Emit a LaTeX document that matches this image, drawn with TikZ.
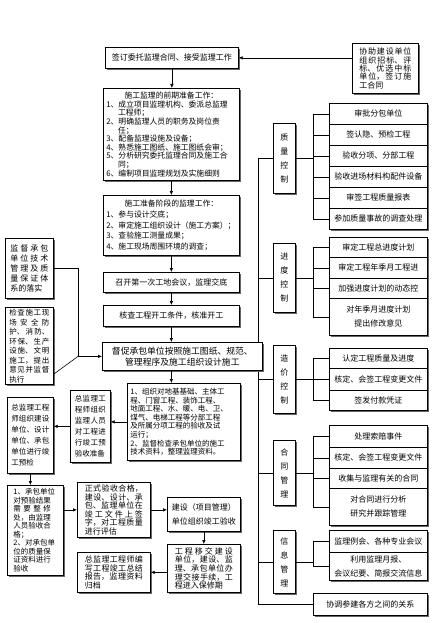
\documentclass[tikz,border=0pt]{standalone}
\usepackage{fontspec}
\setmainfont{Noto Sans CJK SC}
\usetikzlibrary{arrows.meta,shadows,calc,backgrounds}
\XeTeXlinebreaklocale "zh"
\XeTeXlinebreakskip=0pt plus 2pt
\begin{document}
\tikzset{
 box/.style={draw, line width=0.7pt, fill=white, inner sep=2pt, anchor=north west,
   drop shadow={shadow xshift=1.2pt,shadow yshift=-1.2pt,fill=black!60,opacity=1},
   font=\fontsize{8}{9.5}\selectfont},
 jbox/.style={box, align=justify},
 vbox/.style={box, minimum width=22pt, text width=9pt, align=center, inner sep=0pt, font=\fontsize{8}{14}\selectfont},
 item/.style={box, minimum width=98pt, align=center, font=\fontsize{8}{14}\selectfont},
 arr/.style={-{Latex[length=4pt,width=3.5pt]}, line width=0.6pt},
 ln/.style={line width=0.6pt},
}
\begin{tikzpicture}[x=1pt,y=-1pt]
\useasboundingbox (0,0) rectangle (437,623);
% main column
\node[box, minimum width=133pt, minimum height=21pt] (top) at (105,47) {签订委托监理合同、接受监理工作};
\node[jbox, minimum width=66pt, minimum height=50pt, text width=52pt, font=\fontsize{8}{8.4}\selectfont] (help) at (352,43) {协助建设单位组织招标、评标、优选中标单位，签订施工合同};
\node[box, minimum width=136pt, minimum height=92pt, text width=130pt, align=left, font=\fontsize{7.8}{8.6}\selectfont] (prep) at (103,88) {{\centering 施工监理的前期准备工作：\par}1、成立项目监理机构、委派总监理\\\hspace*{1.5em}工程师；\\2、明确监理人员的职务及岗位责\\\hspace*{1.5em}任；\\3、配备监理设施及设备；\\4、熟悉施工图纸、施工图纸会审；\\5、分析研究委托监理合同及施工合\\\hspace*{1.5em}同；\\6、编制项目监理规划及实施细则};
\node[box, minimum width=136pt, minimum height=60pt, text width=130pt, align=left, font=\fontsize{7.8}{10.8}\selectfont] (stage) at (103,195) {{\centering 施工准备阶段的监理工作：\par}1、参与设计交底；\\2、审定施工组织设计（施工方案）；\\3、查验施工测量成果；\\4、施工现场周围环境的调查；};
\node[box, minimum width=136pt, minimum height=20pt] (meet) at (103,272) {召开第一次工地会议，监理交底};
\node[box, minimum width=136pt, minimum height=21pt] (check) at (103,305) {核查工程开工条件，核准开工};
% spine behind urge box
\coordinate (spx) at (258,0);
\coordinate (lj) at (78,0);
\node[box, minimum width=160pt, minimum height=28pt, align=center, font=\fontsize{8.8}{11}\selectfont] (urge) at (102,342) {督促承包单位按照施工图纸、规范、\\管理程序及施工组织设计施工};
\node[box, minimum width=113pt, minimum height=77pt, text width=107pt, align=left, font=\fontsize{7.5}{8.6}\selectfont] (accept) at (127,383) {1、组织对地基基础、主体工\\程、门窗工程、装饰工程、\\地面工程、水、暖、电、卫、\\煤气、电梯工程等分部工程\\及所属分项工程的验收及试\\运行；\\2、监督检查承包单位的施工\\技术资料，整理监理资料。};
% left side
\node[jbox, minimum width=48pt, minimum height=60pt, text width=38pt, font=\fontsize{8}{9.8}\selectfont] (b1) at (5,238) {监督承包单位技术管理及质量保证体系的落实};
\node[jbox, minimum width=48pt, minimum height=76pt, text width=40pt, font=\fontsize{7.5}{9.5}\selectfont] (b2) at (5,307) {检查施工现场安全防护、消防、环保、生产设施、文明施工，提出意见并监督执行};
\node[jbox, minimum width=40pt, minimum height=72pt, text width=31pt, font=\fontsize{7.5}{11}\selectfont] (pre) at (70,390) {总监理工程师组织监理人员对工程进行竣工预验收准备};
\node[jbox, minimum width=46pt, minimum height=76pt, text width=38pt, font=\fontsize{7.5}{11}\selectfont] (prechk) at (7,397) {总监理工程师组织建设单位、设计单位、承包单位进行竣工预检};
\node[box, minimum width=56pt, minimum height=90pt, text width=44pt, align=left, font=\fontsize{7.5}{8.5}\selectfont] (fix) at (7,485) {1、承包单位\\对预验结果\\\makebox[5em][s]{需\hfill 要\hfill 整\hfill 修}\\处，由监理\\人员验收合\\格；\\2、对承包单\\位的质量保\\证资料进行\\验收};
\node[jbox, minimum width=73pt, minimum height=55pt, text width=58pt, font=\fontsize{8}{8.6}\selectfont] (formal) at (77,482) {正式验收合格，建设、设计、承包、监理单位在竣工文件上签字，对工程质量进行评估};
\node[box, minimum width=73pt, minimum height=34pt, align=center, font=\fontsize{8}{14.5}\selectfont] (build) at (167,497) {建设（项目管理）\\单位组织竣工验收};
\node[jbox, minimum width=73pt, minimum height=48pt, text width=58pt, font=\fontsize{8}{8.7}\selectfont] (hand) at (167,544) {工程移交建设单位，建设、监理、承包单位办理交接手续，工程进入保修期};
\node[jbox, minimum width=73pt, minimum height=40pt, text width=58pt, font=\fontsize{8}{8.7}\selectfont] (sum) at (77,552) {总监理工程师编写工程竣工总结报告，监理资料归档};
% right side: control boxes
\node[vbox, minimum height=70pt] (qc) at (273,123) {质\\量\\控\\制};
\node[vbox, minimum height=69pt] (sc) at (273,243) {进\\度\\控\\制};
\node[vbox, minimum height=68pt] (cc) at (273,345) {造\\价\\控\\制};
\node[vbox, minimum height=65pt] (ct) at (273,440) {合\\同\\管\\理};
\node[vbox, minimum height=63pt] (im) at (273,530) {信\\息\\管\\理};
% items
\node[item, minimum height=21pt] (q1) at (329,103) {审批分包单位};
\node[item, minimum height=21pt] (q2) at (329,124) {签认隐、预检工程};
\node[item, minimum height=21pt] (q3) at (329,145) {验收分项、分部工程};
\node[item, minimum height=21pt] (q4) at (329,166) {验收进场材料构配件设备};
\node[item, minimum height=21pt] (q5) at (329,187) {审签工程质量报表};
\node[item, minimum height=21pt] (q6) at (329,208) {参加质量事故的调查处理};
\node[item, minimum height=20pt] (s1) at (329,237) {审定工程总进度计划};
\node[item, minimum height=21pt] (s2) at (329,257) {审定工程年季月工程进};
\node[item, minimum height=20pt] (s3) at (329,278) {加强进度计划的动态控};
\node[item, minimum height=37pt] (s4) at (329,298) {对年季月进度计划\\提出修改意见};
\node[item, minimum height=20pt] (c1) at (329,348) {认定工程质量及进度};
\node[item, minimum height=22pt] (c2) at (329,368) {核定、会签工程变更文件};
\node[item, minimum height=20pt] (c3) at (329,390) {签发付款凭证};
\node[item, minimum height=22pt] (t1) at (329,425) {处理索赔事件};
\node[item, minimum height=21pt] (t2) at (329,447) {核定、会签工程变更文件};
\node[item, minimum height=20pt] (t3) at (329,468) {收集与监理有关的合同};
\node[item, minimum height=37pt] (t4) at (329,488) {对合同进行分析\\研究并跟踪管理};
\node[item, minimum height=22pt] (i1) at (329,530) {监理例会、各种专业会议};
\node[item, minimum height=28pt] (i2) at (329,552) {利用监理月报、\\会议纪要、简报交流信息};
\node[box, minimum width=114pt, minimum height=22pt] (coord) at (313,593) {协调参建各方之间的关系};
% spine (behind)
\begin{pgfonlayer}{background}
\draw[ln] (spx |- qc.west) -- (spx |- coord.west);
\end{pgfonlayer}
\foreach \n in {qc,sc,cc,ct,im,coord} \draw[ln] (spx |- \n.west) -- (\n.west);
% brackets
\coordinate (bx) at (313,0);
\draw[ln] (qc.east) -- (qc.east -| bx);
\draw[ln] (bx |- q1.west) -- (bx |- q6.west);
\foreach \n in {q1,q2,q3,q4,q5,q6} \draw[ln] (bx |- \n.west) -- (\n.west);
\draw[ln] (sc.east) -- (sc.east -| bx);
\draw[ln] (bx |- s1.west) -- (bx |- s4.west);
\foreach \n in {s1,s2,s3,s4} \draw[ln] (bx |- \n.west) -- (\n.west);
\draw[ln] (cc.east) -- (cc.east -| bx);
\draw[ln] (bx |- c1.west) -- (bx |- c3.west);
\foreach \n in {c1,c2,c3} \draw[ln] (bx |- \n.west) -- (\n.west);
\draw[ln] (ct.east) -- (ct.east -| bx);
\draw[ln] (bx |- t1.west) -- (bx |- t4.west);
\foreach \n in {t1,t2,t3,t4} \draw[ln] (bx |- \n.west) -- (\n.west);
\draw[ln] (im.east) -- (im.east -| bx);
\draw[ln] (bx |- i1.west) -- (bx |- i2.west);
\foreach \n in {i1,i2} \draw[ln] (bx |- \n.west) -- (\n.west);
% main arrows
\draw[arr] (top.east -| help.west) -- (top.east);
\draw[arr] (top.south) -- (top.south |- prep.north);
\draw[arr] (prep.south) -- (prep.south |- stage.north);
\draw[arr] (stage.south) -- (stage.south |- meet.north);
\draw[arr] (meet.south) -- (meet.south |- check.north);
\draw[arr] (check.south) -- (check.south |- urge.north);
\draw[arr] (check.south |- urge.south) -- (check.south |- accept.north);
% left connectors
\draw[ln] (b1.east) -- (b1.east -| lj) -- (lj |- urge.west);
\draw[ln] ($(b2.south east)+(0,-11)$) -- ($(b2.south east)+(0,-11)$ -| lj) -- (lj |- urge.west);
\draw[arr] (lj |- urge.west) -- (urge.west);
\draw[arr] (accept.west) -- (accept.west -| pre.east);
\draw[arr] (pre.west) -- (pre.west -| prechk.east);
\draw[arr] (prechk.south) -- (prechk.south |- fix.north);
\draw[arr] (fix.east |- formal.west) -- (formal.west);
\draw[arr] (formal.east) -- (formal.east -| build.west);
\draw[arr] (build.south) -- (build.south |- hand.north);
\draw[arr] (sum.east -| hand.west) -- (sum.east);
\end{tikzpicture}
\end{document}
